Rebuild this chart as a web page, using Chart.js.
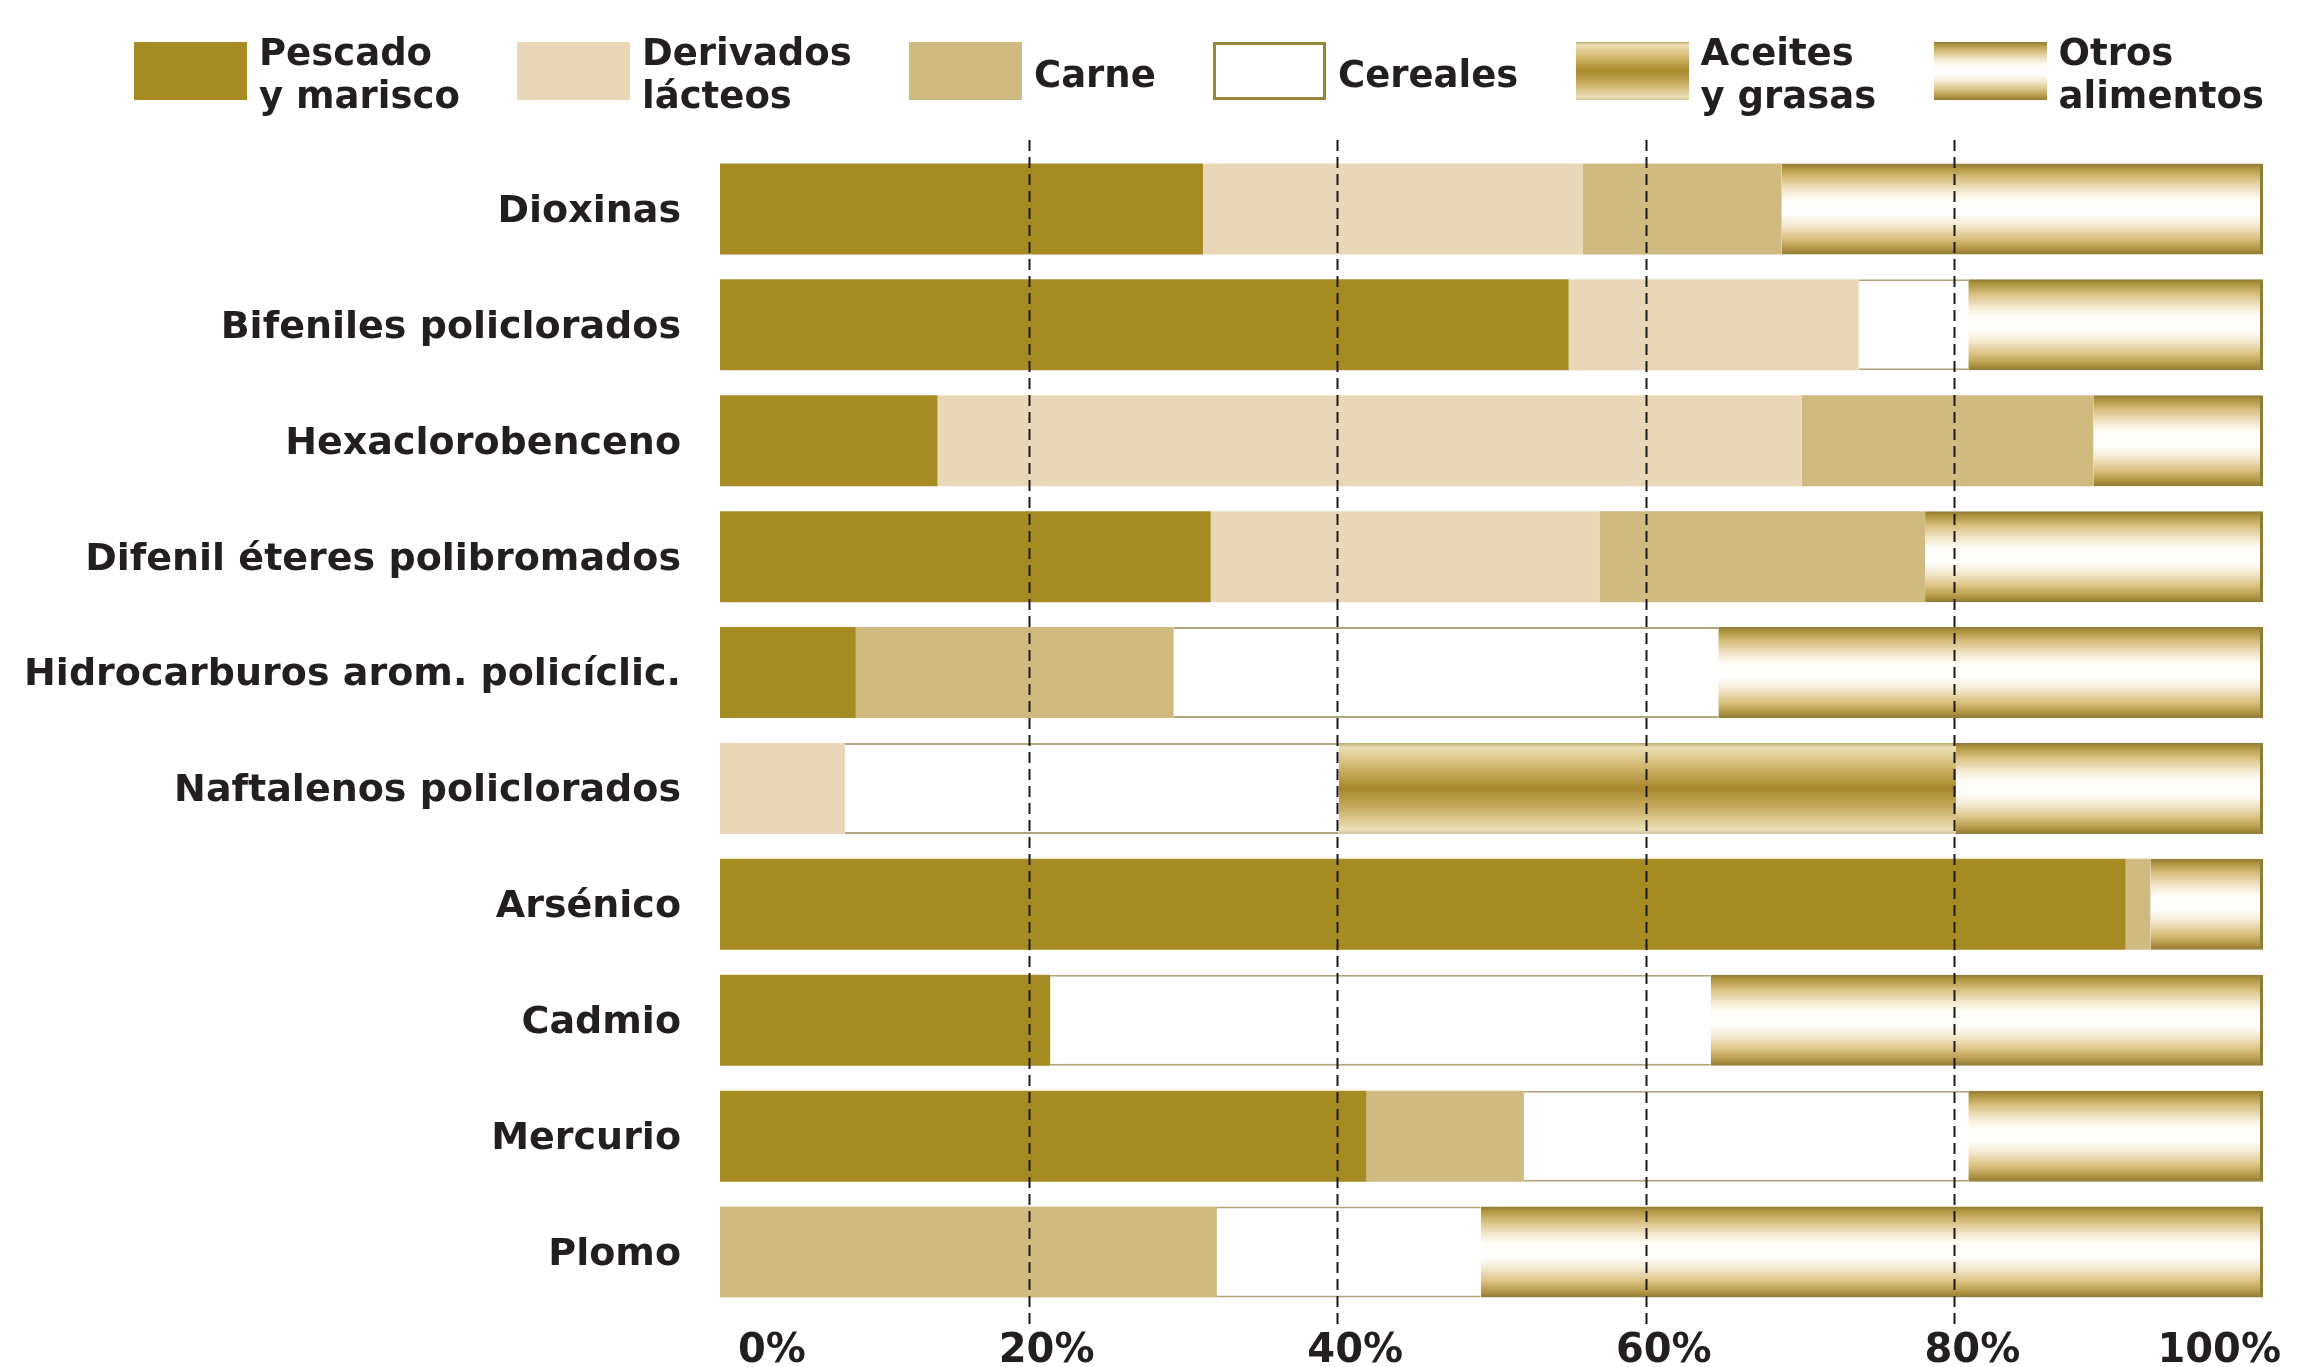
<!DOCTYPE html>
<html lang="es">
<head>
<meta charset="utf-8">
<title>Contaminantes por grupo de alimentos</title>
<script src="https://cdn.jsdelivr.net/npm/chart.js@4.4.1/dist/chart.umd.min.js"></script>
<style>
  html, body { margin: 0; padding: 0; background: #fff; }
  #wrap { position: relative; width: 2304px; height: 1367px; overflow: hidden; }
  #legend {
    position: absolute; left: 134px; right: 40px; top: 28px;
    display: flex; justify-content: space-between; align-items: center;
    font: bold 37px "DejaVu Sans", sans-serif; color: #231f20;
  }
  .item { display: flex; align-items: center; }
  .swatch { width: 113px; height: 58px; box-sizing: border-box; margin-right: 12px; }
  .text { white-space: pre-line; line-height: 43px; position: relative; top: 3px; }
</style>
</head>
<body>
<div id="wrap">
  <canvas id="chart" width="2304" height="1367"></canvas>
  <div id="legend"></div>
</div>
<script>
// Categories (top to bottom)
const categories = [
    'Dioxinas',
    'Bifeniles policlorados',
    'Hexaclorobenceno',
    'Difenil éteres polibromados',
    'Hidrocarburos arom. policíclic.',
    'Naftalenos policlorados',
    'Arsénico',
    'Cadmio',
    'Mercurio',
    'Plomo'
];

const seriesNames = ['Pescado\ny marisco', 'Derivados\nlácteos', 'Carne', 'Cereales', 'Aceites\ny grasas', 'Otros\nalimentos'];

// Share of intake (%) per food group
const pescado   = [31.3, 55.0, 14.1, 31.8,  8.8,  0,   91.1, 21.4, 41.9,  0];
const derivados = [24.6, 18.8, 56.0, 25.2,  0,    8.1,  0,    0,    0,    0];
const carne     = [12.9,  0,   18.9, 21.1, 20.6,  0,    1.6,  0,   10.2, 32.2];
const cereales  = [ 0,    7.1,  0,    0,   35.3, 32.0,  0,   42.8, 28.8, 17.1];
const aceites   = [ 0,    0,    0,    0,    0,   40.0,  0,    0,    0,    0];
const otros     = [31.2, 19.1, 11.0, 21.9, 35.3, 19.9,  7.3, 35.8, 19.1, 50.7];

const tickLabels = ['0%', '20%', '40%', '60%', '80%', '100%'];

const BAR_PCT = 0.785;
const TEXT = '#231f20';

// vertical gradients for the "shiny" segments
const aceitesStops = [
    [0, '#b9a86c'], [0.05, '#ece0b4'], [0.28, '#cfb268'], [0.5, '#a8862a'],
    [0.72, '#c9ad62'], [0.95, '#ebe0b8'], [1, '#cfc49a']
];
const otrosStops = [
    [0, '#8c7a34'], [0.05, '#b0953f'], [0.15, '#d4bb78'], [0.3, '#f2e8cc'],
    [0.4, '#fefcf6'], [0.55, '#ffffff'], [0.68, '#f3e9cf'], [0.82, '#dac282'],
    [0.94, '#b29444'], [1, '#8c7a34']
];

function bandGradient(c, stops) {
    const chart = c.chart;
    const y = chart.scales.y;
    if (!chart.chartArea || !y || c.dataIndex === undefined) return stops[Math.floor(stops.length / 2)][1];
    const mid = y.getPixelForValue(c.dataIndex);
    const half = Math.abs(y.getPixelForValue(1) - y.getPixelForValue(0)) * BAR_PCT / 2;
    const g = chart.ctx.createLinearGradient(0, mid - half, 0, mid + half);
    stops.forEach(([o, col]) => g.addColorStop(o, col));
    return g;
}

function cssGradient(stops) {
    return 'linear-gradient(to bottom, ' + stops.map(([o, col]) => col + ' ' + (o * 100) + '%').join(', ') + ')';
}

const datasets = [
    { label: seriesNames[0], data: pescado, backgroundColor: '#a68a22', legendCss: '#a68a22' },
    { label: seriesNames[1], data: derivados, backgroundColor: '#e8d8b7', legendCss: '#e8d8b7' },
    { label: seriesNames[2], data: carne, backgroundColor: '#cfba7f', legendCss: '#cfba7f' },
    {
        label: seriesNames[3], data: cereales, backgroundColor: '#ffffff',
        borderColor: '#b0a67c', borderWidth: { top: 2, bottom: 2, left: 0, right: 0 },
        legendCss: '#ffffff', legendBorder: '3px solid #978636'
    },
    {
        label: seriesNames[4], data: aceites, backgroundColor: c => bandGradient(c, aceitesStops),
        legendCss: cssGradient(aceitesStops)
    },
    {
        label: seriesNames[5], data: otros, backgroundColor: c => bandGradient(c, otrosStops),
        borderColor: '#8f7d35', borderWidth: { top: 0, bottom: 0, left: 0, right: 3 },
        legendCss: cssGradient(otrosStops)
    }
].map(d => Object.assign({ borderSkipped: false, barPercentage: BAR_PCT, categoryPercentage: 1 }, d));

// dashed vertical lines at the inner ticks, drawn over the bars
const dashedGrid = {
    id: 'dashedGrid',
    afterDatasetsDraw(chart) {
        const { ctx, chartArea, scales: { x } } = chart;
        ctx.save();
        ctx.strokeStyle = '#1a1a1a';
        ctx.lineWidth = 2;
        ctx.setLineDash([11, 6]);
        x.ticks.forEach(t => {
            if (t.value <= x.min || t.value >= x.max) return;
            const px = Math.round(x.getPixelForValue(t.value)) + 0.5;
            ctx.beginPath();
            ctx.moveTo(px, chartArea.top - 11);
            ctx.lineTo(px, chartArea.bottom + 20);
            ctx.stroke();
        });
        ctx.restore();
    }
};

const chart = new Chart(document.getElementById('chart').getContext('2d'), {
    type: 'bar',
    data: { labels: categories, datasets: datasets },
    options: {
        indexAxis: 'y',
        responsive: false,
        animation: false,
        layout: { padding: { top: 151, left: 0, right: 41, bottom: 0 } },
        plugins: { legend: { display: false }, tooltip: { enabled: false } },
        scales: {
            x: {
                stacked: true,
                min: 0,
                max: 100,
                grid: { display: false },
                border: { display: false },
                afterFit: s => { s.height = 57; },
                ticks: {
                    stepSize: 20,
                    padding: 10,
                    align: 'inner',
                    labelOffset: 18,
                    color: TEXT,
                    font: { family: 'DejaVu Sans', weight: 'bold', size: 40 },
                    callback: (v, i) => tickLabels[i]
                }
            },
            y: {
                stacked: true,
                grid: { display: false },
                border: { display: false },
                afterFit: s => { s.width = 720; },
                ticks: {
                    padding: 31,
                    labelOffset: 3,
                    color: TEXT,
                    font: { family: 'DejaVu Sans', weight: 'bold', size: 38 }
                }
            }
        }
    },
    plugins: [dashedGrid]
});

// HTML legend built from the chart's datasets (labels need two lines)
const legendEl = document.getElementById('legend');
chart.data.datasets.forEach(ds => {
    const item = document.createElement('div');
    item.className = 'item';
    const sw = document.createElement('div');
    sw.className = 'swatch';
    sw.style.background = ds.legendCss;
    if (ds.legendBorder) sw.style.border = ds.legendBorder;
    const tx = document.createElement('div');
    tx.className = 'text';
    tx.textContent = ds.label;
    item.appendChild(sw);
    item.appendChild(tx);
    legendEl.appendChild(item);
});
</script>
</body>
</html>
